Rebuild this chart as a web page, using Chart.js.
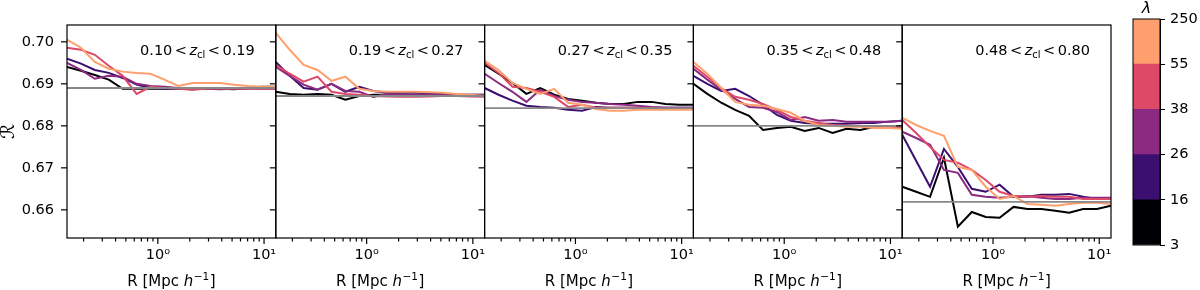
<!DOCTYPE html>
<html>
<head>
<meta charset="utf-8">
<script src="https://cdn.jsdelivr.net/npm/chart.js@4.4.1/dist/chart.umd.min.js"></script>
<style>
  body { margin: 0; background: #fff; }
  canvas { position: absolute; top: 0; }
  #main { left: 0; }
  #cbar { left: 1120px; }
</style>
</head>
<body>
<canvas id="main" width="1120" height="290"></canvas>
<canvas id="cbar" width="80" height="290"></canvas>
<script>
// aperture radii (log-spaced bins)
const R = [0.1396, 0.1888, 0.2553, 0.3451, 0.4667, 0.6310, 0.8531, 1.1535,
           1.5596, 2.1086, 2.8510, 3.8548, 5.2119, 7.0469, 9.5280, 12.882];
const xMin = 0.1396, xMax = 12.9;

const zBins = ['0.10', '0.19', '0.27', '0.35', '0.48', '0.80'];
const lambdaEdges = ['3', '16', '26', '38', '55', '250'];
const lambdaColors = ['#000004', '#3b0f70', '#8c2981', '#de4968', '#fe9f6d'];
const yTicks = [0.66, 0.67, 0.68, 0.69, 0.70];

// random-point reference level per redshift bin
const randomLevel = [0.6890, 0.6871, 0.6842, 0.6800, 0.6619];

// rows: lambda bins 3-16, 16-26, 26-38, 38-55, 55-250
const ratioZ1 = [
  [0.6940,0.6931,0.6921,0.6910,0.6888,0.6888,0.6888,0.6888,0.6888,0.6887,0.6888,0.6888,0.6887,0.6890,0.6893,0.6893],
  [0.6960,0.6948,0.6933,0.6926,0.6914,0.6898,0.6890,0.6888,0.6888,0.6888,0.6888,0.6887,0.6888,0.6889,0.6889,0.6889],
  [0.6950,0.6933,0.6912,0.6919,0.6917,0.6900,0.6895,0.6893,0.6890,0.6890,0.6890,0.6890,0.6890,0.6890,0.6889,0.6889],
  [0.6986,0.6981,0.6969,0.6943,0.6919,0.6876,0.6893,0.6890,0.6888,0.6886,0.6888,0.6888,0.6888,0.6888,0.6888,0.6888],
  [0.7005,0.6986,0.6952,0.6936,0.6929,0.6926,0.6924,0.6910,0.6895,0.6902,0.6902,0.6902,0.6898,0.6895,0.6893,0.6893]
];
const ratioZ2 = [
  [0.6881,0.6876,0.6874,0.6876,0.6874,0.6862,0.6871,0.6874,0.6874,0.6874,0.6873,0.6873,0.6873,0.6871,0.6871,0.6871],
  [0.6952,0.6919,0.6890,0.6886,0.6900,0.6881,0.6893,0.6883,0.6879,0.6879,0.6879,0.6878,0.6876,0.6874,0.6874,0.6874],
  [0.6940,0.6919,0.6898,0.6886,0.6900,0.6883,0.6881,0.6869,0.6876,0.6874,0.6874,0.6874,0.6874,0.6874,0.6874,0.6874],
  [0.6945,0.6924,0.6905,0.6917,0.6881,0.6876,0.6874,0.6871,0.6870,0.6869,0.6869,0.6870,0.6871,0.6871,0.6870,0.6869],
  [0.7021,0.6981,0.6945,0.6933,0.6907,0.6917,0.6888,0.6883,0.6881,0.6881,0.6881,0.6880,0.6879,0.6876,0.6874,0.6871]
];
const ratioZ3 = [
  [0.6945,0.6924,0.6902,0.6876,0.6890,0.6874,0.6864,0.6860,0.6855,0.6852,0.6852,0.6857,0.6857,0.6852,0.6850,0.6850],
  [0.6890,0.6874,0.6860,0.6848,0.6845,0.6843,0.6838,0.6836,0.6845,0.6843,0.6843,0.6843,0.6843,0.6843,0.6843,0.6843],
  [0.6924,0.6902,0.6881,0.6857,0.6886,0.6871,0.6862,0.6857,0.6855,0.6852,0.6850,0.6848,0.6845,0.6843,0.6843,0.6843],
  [0.6950,0.6926,0.6893,0.6890,0.6881,0.6869,0.6845,0.6850,0.6843,0.6843,0.6843,0.6843,0.6842,0.6840,0.6840,0.6840],
  [0.6955,0.6933,0.6902,0.6888,0.6876,0.6888,0.6855,0.6850,0.6840,0.6836,0.6836,0.6838,0.6838,0.6838,0.6838,0.6838]
];
const ratioZ4 = [
  [0.6900,0.6876,0.6855,0.6838,0.6824,0.6790,0.6795,0.6798,0.6788,0.6795,0.6783,0.6793,0.6790,0.6798,0.6798,0.6798],
  [0.6919,0.6900,0.6883,0.6888,0.6871,0.6850,0.6826,0.6812,0.6807,0.6805,0.6805,0.6805,0.6807,0.6807,0.6810,0.6812],
  [0.6936,0.6910,0.6886,0.6864,0.6845,0.6843,0.6833,0.6814,0.6821,0.6812,0.6814,0.6810,0.6810,0.6810,0.6810,0.6812],
  [0.6943,0.6917,0.6890,0.6869,0.6862,0.6852,0.6838,0.6821,0.6812,0.6807,0.6802,0.6800,0.6800,0.6798,0.6798,0.6798],
  [0.6952,0.6924,0.6890,0.6857,0.6850,0.6848,0.6840,0.6831,0.6812,0.6802,0.6800,0.6798,0.6798,0.6795,0.6795,0.6793]
];
const ratioZ5 = [
  [0.6655,0.6643,0.6631,0.6724,0.6560,0.6595,0.6583,0.6581,0.6607,0.6602,0.6602,0.6598,0.6593,0.6602,0.6602,0.6610],
  [0.6779,0.6717,0.6655,0.6745,0.6702,0.6650,0.6643,0.6660,0.6631,0.6631,0.6636,0.6636,0.6638,0.6631,0.6626,0.6626],
  [0.6786,0.6771,0.6755,0.6695,0.6688,0.6636,0.6631,0.6629,0.6631,0.6633,0.6629,0.6626,0.6626,0.6629,0.6629,0.6629],
  [0.6814,0.6783,0.6750,0.6719,0.6712,0.6695,0.6671,0.6643,0.6633,0.6631,0.6633,0.6631,0.6631,0.6626,0.6626,0.6626],
  [0.6819,0.6802,0.6788,0.6776,0.6702,0.6695,0.6655,0.6626,0.6633,0.6614,0.6612,0.6610,0.6614,0.6617,0.6617,0.6614]
];
const panels = [ratioZ1, ratioZ2, ratioZ3, ratioZ4, ratioZ5];

const FONT = 'DejaVu Sans';
const tickFont = { family: FONT, size: 14.5 };

const datasets = [];
panels.forEach((rows, p) => {
  const xid = 'x' + p;
  datasets.push({
    data: [{ x: xMin, y: randomLevel[p] }, { x: xMax, y: randomLevel[p] }],
    xAxisID: xid, yAxisID: 'y',
    borderColor: '#888888', borderWidth: 1.8, pointRadius: 0, order: 0
  });
  rows.forEach((vals, k) => {
    datasets.push({
      data: R.map((r, i) => ({ x: r, y: vals[i] })),
      xAxisID: xid, yAxisID: 'y',
      borderColor: lambdaColors[k], borderWidth: 2,
      pointRadius: 0, tension: 0, order: 5 - k
    });
  });
});

function drawPieces(ctx, pieces, x, y, align) {
  let total = 0;
  pieces.forEach(pc => {
    ctx.font = pc.font;
    pc.w = ctx.measureText(pc.text).width;
    total += pc.w + (pc.gap || 0);
  });
  let cx = align === 'right' ? x - total : align === 'center' ? x - total / 2 : x;
  ctx.textAlign = 'left';
  ctx.textBaseline = 'alphabetic';
  pieces.forEach(pc => {
    ctx.font = pc.font;
    ctx.fillText(pc.text, cx, y + (pc.dy || 0));
    cx += pc.w + (pc.gap || 0);
  });
}

function hline(ctx, x1, y1, x2, y2) {
  ctx.beginPath();
  ctx.moveTo(x1, y1);
  ctx.lineTo(x2, y2);
  ctx.stroke();
}

const panelFrame = {
  id: 'panelFrame',
  afterDraw(chart) {
    const ctx = chart.ctx, area = chart.chartArea, ys = chart.scales.y;
    ctx.save();
    ctx.strokeStyle = '#000';
    ctx.fillStyle = '#000';
    ctx.lineWidth = 1.2;
    panels.forEach((rows, p) => {
      const s = chart.scales['x' + p];
      ctx.strokeRect(s.left, area.top, s.right - s.left, area.bottom - area.top);
      yTicks.forEach(v => {
        const py = ys.getPixelForValue(v);
        hline(ctx, s.left - 6, py, s.left, py);
      });
      [0.1, 1, 10].forEach(dec => {
        for (let m = 1; m <= 9; m++) {
          const v = m * dec;
          if (v < xMin || v > xMax) continue;
          const px = s.getPixelForValue(v);
          hline(ctx, px, area.bottom, px, area.bottom + (m === 1 ? 6 : 3.5));
        }
      });
      const reg = '14.5px "' + FONT + '"';
      drawPieces(ctx, [
        { text: zBins[p], font: reg, gap: 2.5 },
        { text: '<', font: reg, gap: 2.5 },
        { text: 'z', font: 'italic ' + reg },
        { text: 'cl', font: '10px "' + FONT + '"', dy: 3, gap: 2.5 },
        { text: '<', font: reg, gap: 2.5 },
        { text: zBins[p + 1], font: reg }
      ], s.right - 21, 55, 'right');
      const lab = '15px "' + FONT + '"';
      drawPieces(ctx, [
        { text: 'R [Mpc ', font: lab },
        { text: 'h', font: 'italic ' + lab, gap: 0.5 },
        { text: '\u22121', font: '10.5px "' + FONT + '"', dy: -6, gap: 0.5 },
        { text: ']', font: lab }
      ], (s.left + s.right) / 2, 286, 'center');
    });
    ctx.restore();
  }
};

const scales = {
  y: {
    type: 'linear', position: 'left', min: 0.6533, max: 0.7040,
    afterFit: s => { s.width = 67; },
    ticks: {
      stepSize: 0.01, includeBounds: false, color: '#000', font: tickFont, padding: 13,
      callback: v => v.toFixed(2)
    },
    grid: { display: false, drawTicks: false },
    border: { display: false },
    title: {
      display: true, text: '\u211B', color: '#000',
      font: { family: FONT, size: 19, lineHeight: 1 }, padding: 0
    }
  }
};
panels.forEach((rows, p) => {
  scales['x' + p] = {
    type: 'logarithmic', position: 'bottom', stack: 'panels', stackWeight: 1,
    min: xMin, max: xMax,
    afterFit: s => { s.height = 52; },
    ticks: {
      autoSkip: false, maxRotation: 0, color: '#000', font: tickFont, padding: 9,
      callback: v => Math.abs(v - 1) < 1e-9 ? '10\u2070' : Math.abs(v - 10) < 1e-9 ? '10\u00B9' : ''
    },
    grid: { display: false, drawTicks: false },
    border: { display: false }
  };
});

new Chart(document.getElementById('main').getContext('2d'), {
  type: 'line',
  data: { datasets },
  options: {
    responsive: false,
    animation: false,
    layout: { padding: { top: 25, right: 2, left: 0, bottom: 0 } },
    plugins: { legend: { display: false }, tooltip: { enabled: false } },
    scales
  },
  plugins: [panelFrame]
});

// discrete colour bar for richness
const cbarFrame = {
  id: 'cbarFrame',
  afterDraw(chart) {
    const ctx = chart.ctx, a = chart.chartArea;
    ctx.save();
    ctx.strokeStyle = '#000';
    ctx.lineWidth = 1;
    ctx.strokeRect(a.left, a.top, a.right - a.left, a.bottom - a.top);
    ctx.fillStyle = '#000';
    ctx.font = 'italic 16px "' + FONT + '"';
    ctx.textAlign = 'center';
    ctx.textBaseline = 'alphabetic';
    ctx.fillText('\u03BB', (a.left + a.right) / 2, 13);
    ctx.restore();
  }
};

new Chart(document.getElementById('cbar').getContext('2d'), {
  type: 'bar',
  data: {
    labels: [''],
    datasets: lambdaColors.map(c => ({
      data: [1], backgroundColor: c, borderWidth: 0,
      barPercentage: 1, categoryPercentage: 1
    }))
  },
  options: {
    responsive: false,
    animation: false,
    layout: { padding: { left: 13, top: 19, bottom: 45, right: 0 } },
    plugins: { legend: { display: false }, tooltip: { enabled: false } },
    scales: {
      x: { display: false, stacked: true },
      y: {
        stacked: true, position: 'right', min: 0, max: 5,
        afterFit: s => { s.width = 40; },
        ticks: { stepSize: 1, color: '#000', font: tickFont, padding: 5, callback: v => lambdaEdges[v] },
        grid: { drawOnChartArea: false, tickLength: 5, color: '#000' },
        border: { display: true, color: '#000' }
      }
    }
  },
  plugins: [cbarFrame]
});
</script>
</body>
</html>
